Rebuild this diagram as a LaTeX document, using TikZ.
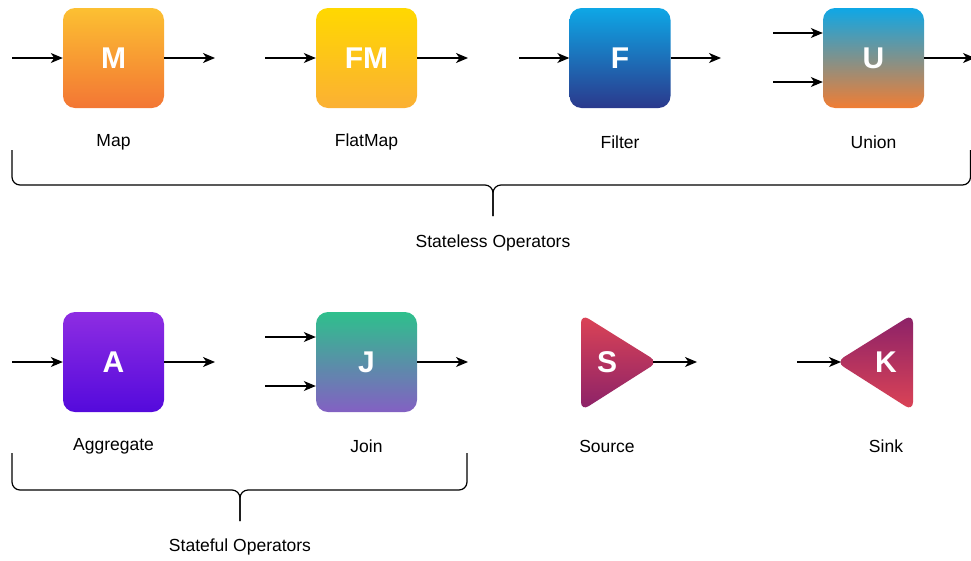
\documentclass[tikz,border=0pt]{standalone}
\usepackage{fontspec}
\setmainfont{Liberation Sans}
\usetikzlibrary{arrows.meta}
\definecolor{mTop}{RGB}{252,192,50}
\definecolor{mBot}{RGB}{243,118,52}
\definecolor{fmTop}{RGB}{255,216,0}
\definecolor{fmBot}{RGB}{251,176,52}
\definecolor{fTop}{RGB}{14,167,230}
\definecolor{fBot}{RGB}{43,57,140}
\definecolor{uTop}{RGB}{14,167,230}
\definecolor{uBot}{RGB}{241,125,51}
\definecolor{aTop}{RGB}{142,45,226}
\definecolor{aBot}{RGB}{84,10,220}
\definecolor{jTop}{RGB}{46,192,140}
\definecolor{jBot}{RGB}{131,96,195}
\definecolor{sRed}{RGB}{221,68,85}
\definecolor{sPur}{RGB}{138,33,105}
\tikzset{
  op/.style={minimum width=101pt, minimum height=100pt, rounded corners=12pt,
    text=white, font=\bfseries\fontsize{30}{31}\selectfont, inner sep=0pt},
  lab/.style={font=\fontsize{17.5}{20}\selectfont, text=black},
  conn/.style={line width=1.2pt, -{Stealth[length=12pt,width=10pt,inset=3.5pt]}},
  brace/.style={line width=1.2pt, rounded corners=8pt},
  tri/.style={rounded corners=9pt}
}
\begin{document}
\begin{tikzpicture}[x=1pt,y=-1pt]
\useasboundingbox (0,0) rectangle (971,560);
% top row
\node[op, top color=mTop, bottom color=mBot] (M) at (113.5,58) {M};
\node[op, top color=fmTop, bottom color=fmBot] (FM) at (366.5,58) {FM};
\node[op, top color=fTop, bottom color=fBot] (F) at (620,58) {F};
\node[op, top color=uTop, bottom color=uBot] (U) at (873.5,58) {U};
\node[lab] (Ml) at (113.5,142) {Map};
\node[lab] (FMl) at (366.5,142) {FlatMap};
\node[lab] (Fl) at (620,142) {Filter};
\node[lab] (Ul) at (873.5,142) {Union};
\coordinate (Min) at (12,58); \coordinate (Mout) at (215,58);
\coordinate (FMin) at (265,58); \coordinate (FMout) at (468,58);
\coordinate (Fin) at (519,58); \coordinate (Fout) at (721,58);
\coordinate (Uin1) at (773,33); \coordinate (Uin2) at (773,82); \coordinate (Uout) at (975,58);
\draw[conn] (Min) -- (M.west);
\draw[conn] (M.east) -- (Mout);
\draw[conn] (FMin) -- (FM.west);
\draw[conn] (FM.east) -- (FMout);
\draw[conn] (Fin) -- (F.west);
\draw[conn] (F.east) -- (Fout);
\draw[conn] (Uin1) -- (U.west |- Uin1);
\draw[conn] (Uin2) -- (U.west |- Uin2);
\draw[conn] (U.east) -- (Uout);
% top brace
\coordinate (B1l) at (12,150); \coordinate (B1r) at (970.5,150); \coordinate (B1m) at (493,216);
\draw[brace] (B1l) -- (12,185) -- (493,185) -- (B1m);
\draw[brace] (B1r) -- (970.5,185) -- (493,185) -- (B1m);
\node[lab] (SL) at (493,243) {Stateless Operators};
% bottom row
\node[op, top color=aTop, bottom color=aBot] (A) at (113.5,362) {A};
\node[op, top color=jTop, bottom color=jBot] (J) at (366.5,362) {J};
\node[lab] (Al) at (113.5,446) {Aggregate};
\node[lab] (Jl) at (366.5,446) {Join};
\coordinate (Ain) at (12,362); \coordinate (Aout) at (215,362);
\coordinate (Jin1) at (265,337); \coordinate (Jin2) at (265,386); \coordinate (Jout) at (468,362);
\draw[conn] (Ain) -- (A.west);
\draw[conn] (A.east) -- (Aout);
\draw[conn] (Jin1) -- (J.west |- Jin1);
\draw[conn] (Jin2) -- (J.west |- Jin2);
\draw[conn] (J.east) -- (Jout);
% source
\shade[tri, top color=sRed, bottom color=sPur] (581,314) -- (658,362) -- (581,411) -- cycle;
\node[text=white, font=\bfseries\fontsize{30}{31}\selectfont] (S) at (607,362) {S};
\coordinate (Sapex) at (653,362); \coordinate (Sout) at (697,362);
\draw[conn] (Sapex) -- (Sout);
\node[lab] (Sl) at (607,446) {Source};
% sink
\shade[tri, top color=sPur, bottom color=sRed] (913,314) -- (836,362) -- (913,411) -- cycle;
\node[text=white, font=\bfseries\fontsize{30}{31}\selectfont] (K) at (886,362) {K};
\coordinate (Kapex) at (841,362); \coordinate (Kin) at (797,362);
\draw[conn] (Kin) -- (Kapex);
\node[lab] (Kl) at (886,446) {Sink};
% bottom brace
\coordinate (B2l) at (12,453); \coordinate (B2r) at (467,453); \coordinate (B2m) at (240,521);
\draw[brace] (B2l) -- (12,490) -- (240,490) -- (B2m);
\draw[brace] (B2r) -- (467,490) -- (240,490) -- (B2m);
\node[lab] (SF) at (240,547) {Stateful Operators};
\end{tikzpicture}
\end{document}
